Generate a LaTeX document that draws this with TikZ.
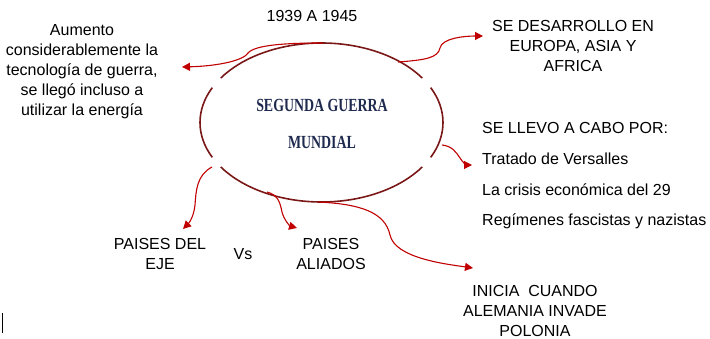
\documentclass[tikz,border=0pt]{standalone}
\usepackage{fontspec}
\setmainfont{Liberation Sans}
\newfontfamily\titlefont[FakeStretch=0.75]{Liberation Serif}
\usetikzlibrary{arrows.meta}
\definecolor{arrred}{HTML}{C00000}
\definecolor{ellred}{HTML}{7A1818}
\definecolor{navy}{HTML}{1F2A4F}
\tikzset{
  lbl/.style={inner sep=0pt, font=\fontsize{16}{20}\selectfont, align=center},
  lblL/.style={inner sep=0pt, font=\fontsize{16}{20}\selectfont, anchor=west},
  ttl/.style={inner sep=0pt, font=\titlefont\bfseries\fontsize{18.5}{20}\selectfont, text=navy},
  arr/.style={draw=arrred, line width=1.1pt, -{Triangle[length=8pt,width=8pt]}},
  ell/.style={draw=ellred, line width=1.6pt}
}
\begin{document}
\begin{tikzpicture}[x=1pt,y=-1pt]
\useasboundingbox (0,0) rectangle (710,339);
% ellipse arcs with gaps
\coordinate (c) at (321.5,122.5);
\draw[ell] (c) ++(34:121.5pt and 79.5pt) arc[start angle=34,end angle=146,x radius=121.5pt,y radius=79.5pt];
\draw[ell] (c) ++(154:121.5pt and 79.5pt) arc[start angle=154,end angle=206,x radius=121.5pt,y radius=79.5pt];
\draw[ell] (c) ++(214:121.5pt and 79.5pt) arc[start angle=214,end angle=326,x radius=121.5pt,y radius=79.5pt];
\draw[ell] (c) ++(334:121.5pt and 79.5pt) arc[start angle=334,end angle=386,x radius=121.5pt,y radius=79.5pt];
% title
\node[ttl] (t1) at (322,105) {SEGUNDA GUERRA};
\node[ttl] (t2) at (322,142) {MUNDIAL};
% texts
\node[lbl] (year) at (312,16) {1939 A 1945};
\node[lbl] (left) at (82,72) {Aumento\\considerablemente la\\tecnología de guerra,\\se llegó incluso a\\utilizar la energía};
\node[lbl] (desa) at (573,46) {SE DESARROLLO EN\\EUROPA, ASIA Y\\AFRICA};
\node[lblL] (llevo) at (482,128) {SE LLEVO A CABO POR:};
\node[lblL] (trat) at (482,159) {Tratado de Versalles};
\node[lblL] (cris) at (482,190) {La crisis económica del 29};
\node[lblL] (reg) at (482,221) {Regímenes fascistas y nazistas};
\node[lbl] (eje) at (160,254) {PAISES DEL\\EJE};
\node[lbl] (vs) at (243,254) {Vs};
\node[lbl] (ali) at (331,254) {PAISES\\ALIADOS};
\node[lbl] (ini) at (535,311) {INICIA\ \ CUANDO\\ALEMANIA INVADE\\POLONIA};
% anchor coordinates
\coordinate (s1) at (322,43);
\coordinate (e1) at (182,67);
\coordinate (s2) at (398,62);
\coordinate (e2) at (483,36);
\coordinate (s3) at (442,145);
\coordinate (e3) at (472,165);
\coordinate (s4) at (212,167);
\coordinate (e4) at (183,229);
\coordinate (s5) at (267,192);
\coordinate (e5) at (297,228);
\coordinate (s6) at (318,202);
\coordinate (e6) at (473,268);
% arrows
\draw[arr] (s1) .. controls (285,43) and (255,45) .. (248,53) .. controls (244,60) and (220,66) .. (e1);
\draw[arr] (s2) .. controls (425,60) and (438,58) .. (440,48) .. controls (442,38) and (465,36) .. (e2);
\draw[arr] (s3) .. controls (452,146) and (456,152) .. (460,158) .. controls (463,163) and (467,165) .. (e3);
\draw[arr] (s4) .. controls (197,175) and (196,190) .. (195,205) .. controls (194,215) and (190,222) .. (e4);
\draw[arr] (s5) .. controls (278,195) and (280,202) .. (282,212) .. controls (284,220) and (290,226) .. (e5);
\draw[arr] (s6) .. controls (360,204) and (385,212) .. (390,235) .. controls (395,258) and (445,264) .. (e6);
% text cursor
\coordinate (k1) at (2.5,313);
\coordinate (k2) at (2.5,333);
\draw[line width=1pt] (k1) -- (k2);
\end{tikzpicture}
\end{document}
